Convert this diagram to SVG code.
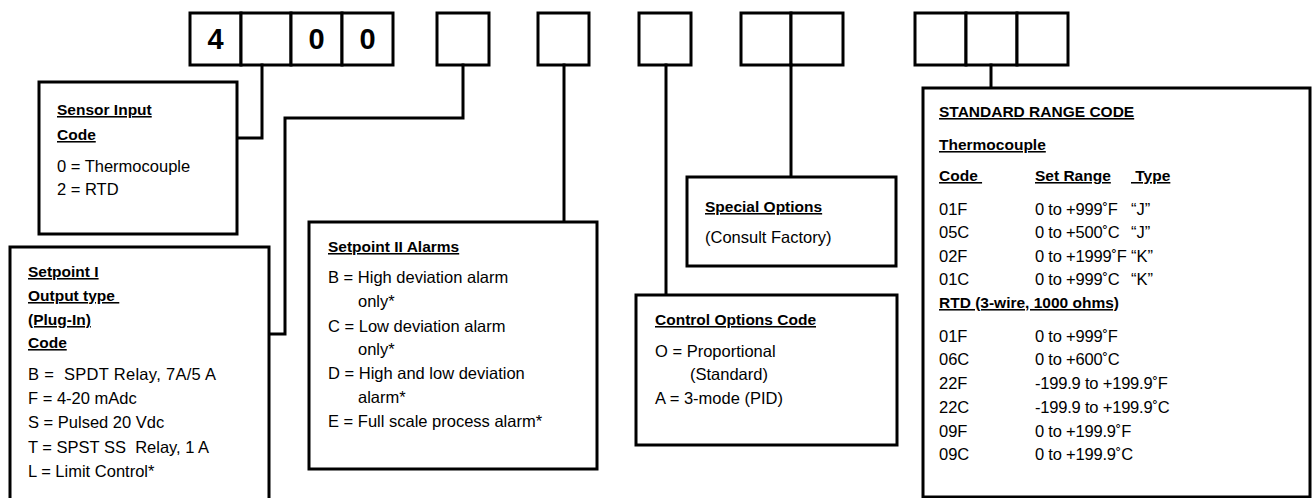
<svg xmlns="http://www.w3.org/2000/svg" width="1312" height="498" viewBox="0 0 1312 498">
<style>
.box{fill:#fff;stroke:#000;stroke-width:3}
.cell{fill:#fff;stroke:#000;stroke-width:3}
.wire{fill:none;stroke:#000;stroke-width:3;stroke-linejoin:miter;stroke-linecap:square}
text{font-family:"Liberation Sans",Arial,sans-serif;fill:#000;white-space:pre}
.t{font-size:16.5px}
.r{letter-spacing:-0.2px}
.h{font-size:15.5px;font-weight:bold;text-decoration:underline}
.d{font-size:29px;font-weight:bold;text-anchor:middle}
</style>
<rect width="1312" height="498" fill="#fff"/>
<g id="code-cells">
<rect class="cell" x="190" y="13" width="51" height="52"/>
<rect class="cell" x="241" y="13" width="50" height="52"/>
<rect class="cell" x="291" y="13" width="51" height="52"/>
<rect class="cell" x="342" y="13" width="51" height="52"/>
<text class="d" x="215.5" y="49">4</text>
<text class="d" x="316.5" y="49">0</text>
<text class="d" x="367.5" y="49">0</text>
<rect class="cell" x="437" y="13" width="52" height="52"/>
<rect class="cell" x="538" y="13" width="51" height="52"/>
<rect class="cell" x="639" y="13" width="52" height="52"/>
<rect class="cell" x="741" y="13" width="50" height="52"/>
<rect class="cell" x="791" y="13" width="52" height="52"/>
<rect class="cell" x="915" y="13" width="51" height="52"/>
<rect class="cell" x="966" y="13" width="51" height="52"/>
<rect class="cell" x="1017" y="13" width="51" height="52"/>
</g>
<g id="connectors">
<polyline class="wire" points="262,65 262,138 238,138"/>
<polyline class="wire" points="463,65 463,118 285,118 285,334 270,334"/>
<polyline class="wire" points="564,65 564,221"/>
<polyline class="wire" points="666,65 666,294"/>
<polyline class="wire" points="791,65 791,176"/>
<polyline class="wire" points="991,65 991,87"/>
</g>
<g id="sensor-input">
<rect class="box" x="39" y="82" width="198" height="152"/>
<text class="h" x="57" y="115">Sensor Input</text>
<text class="h" x="57" y="140">Code</text>
<text class="t" x="57" y="172">0 = Thermocouple</text>
<text class="t" x="57" y="195">2 = RTD</text>
</g>
<g id="setpoint-1">
<rect class="box" x="10" y="247" width="259" height="260"/>
<text class="h" x="28" y="277">Setpoint I</text>
<text class="h" x="28" y="301">Output type </text>
<text class="h" x="28" y="325">(Plug-In)</text>
<text class="h" x="28" y="348">Code</text>
<text class="t" x="28" y="380" letter-spacing="0.3">B =  SPDT Relay, 7A/5 A</text>
<text class="t" x="28" y="404">F = 4-20 mAdc</text>
<text class="t" x="28" y="428">S = Pulsed 20 Vdc</text>
<text class="t" x="28" y="453">T = SPST SS  Relay, 1 A</text>
<text class="t" x="28" y="477">L = Limit Control*</text>
</g>
<g id="setpoint-2">
<rect class="box" x="309" y="222" width="288" height="247"/>
<text class="h" x="328" y="252">Setpoint II Alarms</text>
<text class="t" x="328" y="283">B = High deviation alarm</text>
<text class="t" x="358" y="307">only*</text>
<text class="t" x="328" y="332">C = Low deviation alarm</text>
<text class="t" x="358" y="355">only*</text>
<text class="t" x="328" y="379">D = High and low deviation</text>
<text class="t" x="358" y="403">alarm*</text>
<text class="t" x="328" y="427">E = Full scale process alarm*</text>
</g>
<g id="special-options">
<rect class="box" x="687" y="177" width="209" height="89"/>
<text class="h" x="705" y="212">Special Options</text>
<text class="t" x="705" y="243">(Consult Factory)</text>
</g>
<g id="control-options">
<rect class="box" x="636" y="295" width="261" height="150"/>
<text class="h" x="655" y="325">Control Options Code</text>
<text class="t" x="655" y="357">O = Proportional</text>
<text class="t" x="690" y="380">(Standard)</text>
<text class="t" x="655" y="404">A = 3-mode (PID)</text>
</g>
<g id="standard-range">
<rect class="box" x="923" y="88" width="387" height="409"/>
<text class="h" x="939" y="117">STANDARD RANGE CODE</text>
<text class="h" x="939" y="150">Thermocouple</text>
<text class="h" x="939" y="181">Code </text>
<text class="h" x="1035" y="181">Set Range</text>
<text class="h" x="1131" y="181"> Type</text>
<text class="t" x="939" y="215">01F</text><text class="t r" x="1035" y="215">0 to +999˚F</text><text class="t" x="1131" y="215">“J”</text>
<text class="t" x="939" y="238">05C</text><text class="t r" x="1035" y="238">0 to +500˚C</text><text class="t" x="1131" y="238">“J”</text>
<text class="t" x="939" y="262">02F</text><text class="t r" x="1035" y="262">0 to +1999˚F</text><text class="t" x="1131" y="262">“K”</text>
<text class="t" x="939" y="285">01C</text><text class="t r" x="1035" y="285">0 to +999˚C</text><text class="t" x="1131" y="285">“K”</text>
<text class="h" x="939" y="308">RTD (3-wire, 1000 ohms)</text>
<text class="t" x="939" y="342">01F</text><text class="t r" x="1035" y="342">0 to +999˚F</text>
<text class="t" x="939" y="365">06C</text><text class="t r" x="1035" y="365">0 to +600˚C</text>
<text class="t" x="939" y="389">22F</text><text class="t r" x="1035" y="389">-199.9 to +199.9˚F</text>
<text class="t" x="939" y="413">22C</text><text class="t r" x="1035" y="413">-199.9 to +199.9˚C</text>
<text class="t" x="939" y="437">09F</text><text class="t r" x="1035" y="437">0 to +199.9˚F</text>
<text class="t" x="939" y="460">09C</text><text class="t r" x="1035" y="460">0 to +199.9˚C</text>
</g>
</svg>
